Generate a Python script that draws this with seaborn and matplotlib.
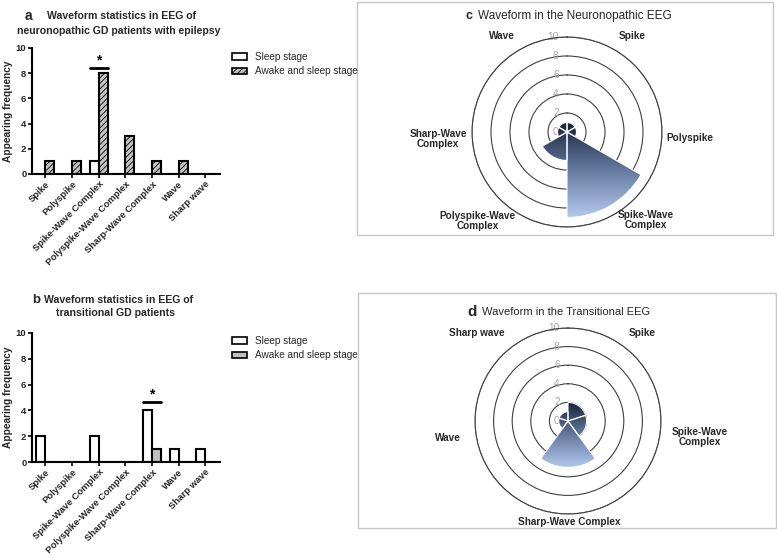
import numpy as np
import pandas as pd
import matplotlib
matplotlib.use("Agg")
import matplotlib.pyplot as plt
import seaborn as sns
from matplotlib.patches import Patch, Rectangle
from matplotlib.image import AxesImage
from matplotlib.colors import LinearSegmentedColormap

# ---- data ----
categories = ["Spike", "Polyspike", "Spike-Wave Complex", "Polyspike-Wave Complex",
              "Sharp-Wave Complex", "Wave", "Sharp wave"]
stages = ["Sleep stage", "Awake and sleep stage"]
a_sleep = [0, 0, 1, 0, 0, 0, 0]
a_awake = [1, 1, 8, 3, 1, 1, 0]
b_sleep = [2, 0, 2, 0, 4, 1, 1]
b_awake = [0, 0, 0, 0, 1, 0, 0]
a_sig = ("Spike-Wave Complex", 8.4)
b_sig = ("Sharp-Wave Complex", 4.65)

c_labels = ["Spike", "Polyspike", "Spike-Wave\nComplex", "Polyspike-Wave\nComplex",
            "Sharp-Wave\nComplex", "Wave"]
c_values = [1, 1, 9, 3, 1, 1]
d_labels = ["Spike", "Spike-Wave\nComplex", "Sharp-Wave Complex", "Wave", "Sharp wave"]
d_values = [2, 2, 5, 1, 1]
r_ticks = [0, 2, 4, 6, 8, 10]

# label placement (angle deg clockwise from top, radius)
c_label_pos = [(34, 12.2), (93, 12.9), (138, 12.4), (225, 13.3), (267, 13.6), (326, 12.2)]
d_label_pos = [(40, 12.4), (97, 14.3), (179, 10.9), (262, 13.0), (314, 13.6)]

W, H = 777, 558
sns.set_theme(style="white")
plt.rcParams['font.family'] = ['Liberation Sans', 'DejaVu Sans']
plt.rcParams['hatch.linewidth'] = 0.6

fig = plt.figure(figsize=(W / 100, H / 100), dpi=100)


def fpos(x, y):
    return x / W, 1 - y / H


def box(x0, y0, w, h):
    return [x0 / W, 1 - (y0 + h) / H, w / W, h / H]


def bar_panel(rect, sleep, awake, awake_col, hatch, sig, legend_xy):
    ax = fig.add_axes(rect)
    df = pd.DataFrame({
        "category": categories * 2,
        "stage": [stages[0]] * len(categories) + [stages[1]] * len(categories),
        "value": sleep + awake,
    })
    sns.barplot(data=df, x="category", y="value", hue="stage", hue_order=stages,
                palette={stages[0]: "white", stages[1]: awake_col}, saturation=1,
                width=0.68, edgecolor="black", linewidth=1.5, legend=False, ax=ax)
    if hatch:
        for p in ax.containers[1]:
            p.set_hatch(hatch)
    ax.set_ylim(0, 10)
    ax.set_xlim(-0.5, 6.55)
    ax.set_yticks([0, 2, 4, 6, 8, 10])
    ax.set_xlabel("")
    ax.set_ylabel("Appearing frequency", fontsize=7.3, fontweight="bold", labelpad=2)
    ax.tick_params(axis="both", labelsize=6.8, length=3, width=1.2, pad=1,
                   bottom=True, left=True, color="black")
    for lab in ax.get_yticklabels():
        lab.set_fontweight("bold")
    ax.set_xticks(range(len(categories)))
    ax.set_xticklabels(categories, rotation=45, ha="right", rotation_mode="anchor",
                       fontweight="bold", fontsize=6.8)
    sns.despine(ax=ax)
    for s in ["left", "bottom"]:
        ax.spines[s].set_linewidth(1.5)
        ax.spines[s].set_color("black")
    # significance
    xi = categories.index(sig[0])
    ax.plot([xi - 0.34, xi + 0.34], [sig[1], sig[1]], color="black", lw=2, clip_on=False)
    ax.text(xi, sig[1] + 0.05, "*", ha="center", va="bottom", fontsize=10,
            fontweight="bold", color="black")
    handles = [Patch(facecolor="white", edgecolor="black", linewidth=1.2),
               Patch(facecolor=awake_col, edgecolor="black", linewidth=1.2, hatch=hatch)]
    fig.legend(handles, stages, loc="upper left", bbox_to_anchor=fpos(*legend_xy),
               frameon=False, fontsize=7.2, borderpad=0, borderaxespad=0,
               handlelength=1.5, handleheight=0.6, handletextpad=0.8, labelspacing=0.45)
    return ax


bar_panel(box(32, 48, 188, 126), a_sleep, a_awake, "#c4c4c4", "//////", a_sig, (232, 52))
bar_panel(box(32, 333, 188, 129), b_sleep, b_awake, "#c0c0c0", None, b_sig, (232, 336))

cmap = LinearSegmentedColormap.from_list(
    "g", [(0, "#18223a"), (0.4, "#566a8e"), (1, "#b4c9ef")])


def sector_image(values, res=700):
    # rgba image of the sectors with a top-to-bottom gradient, in axes coords
    n = len(values)
    width = 2 * np.pi / n
    vals = np.asarray(values, dtype=float)
    u = (np.arange(res) + 0.5) / res
    X, Y = np.meshgrid(u, u[::-1])
    dx, dy = (X - 0.5) * 20, (Y - 0.5) * 20      # data units, rmax = 10
    r = np.hypot(dx, dy)
    th = np.mod(np.arctan2(dx, dy), 2 * np.pi)   # clockwise from north
    idx = np.minimum((th // width).astype(int), n - 1)
    inside = r <= vals[idx]
    # vertical extent of the filled shape
    ys = [0.0]
    for k, v in enumerate(vals):
        tt = np.linspace(k * width, (k + 1) * width, 90)
        ys.extend(v * np.cos(tt))
    top, bot = max(ys), min(ys)
    t = np.clip((top - dy) / (top - bot), 0, 1)
    rgba = cmap(t)
    rgba[..., 3] = inside.astype(float)
    return rgba


def polar_panel(rect, values, labels, label_pos):
    ax = fig.add_axes(rect, projection="polar")
    ax.set_theta_zero_location("N")
    ax.set_theta_direction(-1)
    n = len(values)
    width = 2 * np.pi / n
    thetas = np.arange(n) * width + width / 2
    im = AxesImage(ax, origin="upper", extent=(0, 1, 0, 1),
                   transform=ax.transAxes, interpolation="antialiased")
    im.set_data(sector_image(values))
    im.set_zorder(2)
    ax.add_image(im)
    ax.bar(thetas, values, width=width, bottom=0, facecolor="none",
           edgecolor="white", linewidth=0.8, zorder=3)
    ax.set_xlim(0, 2 * np.pi)
    ax.set_ylim(0, 10)
    ax.set_xticks([])
    ax.set_yticks(r_ticks[1:])
    ax.set_yticklabels([])
    ax.grid(True, axis="y", color="#404040", lw=0.8)
    ax.grid(False, axis="x")
    ax.set_axisbelow(True)
    ax.spines["polar"].set_color("#404040")
    ax.spines["polar"].set_linewidth(0.8)
    for rv in r_ticks:
        ax.annotate(str(rv), xy=(0, rv), xytext=(-6, 0), textcoords="offset points",
                    ha="right", va="center", fontsize=7.3, color="#a6a6a6", zorder=1)
    for lab, (ang, rr) in zip(labels, label_pos):
        ax.text(np.deg2rad(ang), rr, lab, ha="center", va="center", fontsize=7.2,
                fontweight="bold", linespacing=1.0, clip_on=False)
    return ax


polar_panel(box(472, 37, 190, 190), c_values, c_labels, c_label_pos)
polar_panel(box(475, 328, 186, 186), d_values, d_labels, d_label_pos)

# panel frames
for (x0, y0, w, h) in [(357, 2, 416, 233), (358, 293, 418, 235)]:
    fig.add_artist(Rectangle(fpos(x0, y0 + h), w / W, h / H, transform=fig.transFigure,
                             fill=False, edgecolor="#c8c8c8", lw=1))

# titles
fig.text(*fpos(25, 16), "a", fontsize=10, fontweight="bold", va="center", ha="left")
fig.text(*fpos(47, 16), "Waveform statistics in EEG of", fontsize=7.6, fontweight="bold",
         va="center", ha="left")
fig.text(*fpos(119, 31), "neuronopathic GD patients with epilepsy", fontsize=7.6,
         fontweight="bold", va="center", ha="center")
fig.text(*fpos(32, 300), "b", fontsize=9.5, fontweight="bold", va="center", ha="left")
fig.text(*fpos(44, 300), "Waveform statistics in EEG of", fontsize=7.6, fontweight="bold",
         va="center", ha="left")
fig.text(*fpos(116, 313), "transitional GD patients", fontsize=7.6, fontweight="bold",
         va="center", ha="center")
fig.text(*fpos(465, 16), "c", fontsize=9, fontweight="bold", va="center", ha="left")
fig.text(*fpos(478, 16), "Waveform in the Neuronopathic EEG", fontsize=8.5,
         va="center", ha="left")
fig.text(*fpos(467, 312), "d", fontsize=11, fontweight="bold", va="center", ha="left")
fig.text(*fpos(482, 312), "Waveform in the Transitional EEG", fontsize=8,
         va="center", ha="left")

fig.savefig("out.png", dpi=100)
